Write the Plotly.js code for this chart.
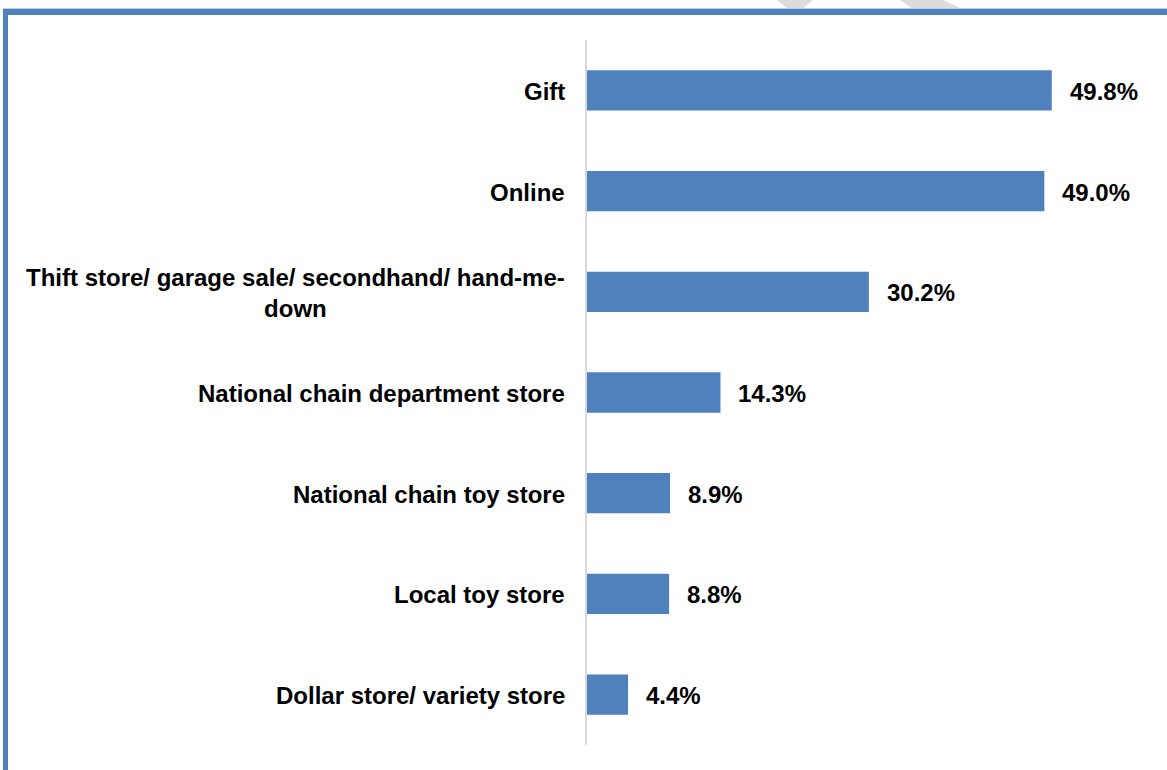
<!DOCTYPE html>
<html>
<head>
<meta charset="utf-8">
<script src="https://cdn.plot.ly/plotly-3.0.1.min.js"></script>
<style>
html,body{margin:0;padding:0;background:#fff;}
#chart{width:1167px;height:770px;position:absolute;left:0;top:0;}
#frame{position:absolute;left:3px;top:9px;width:1164px;height:761px;border-top:6px solid #4F81BD;border-left:5px solid #4F81BD;box-sizing:border-box;pointer-events:none;}
#frameTop{position:absolute;left:3px;top:8px;width:1164px;height:1px;background:#b8cce4;pointer-events:none;}
.wm{position:absolute;top:0;height:9px;background:#dcdcdc;pointer-events:none;}
</style>
</head>
<body>
<div id="chart"></div>
<div class="wm" style="left:777px;width:36px;clip-path:polygon(0 0,100% 0,70% 100%,30% 100%);"></div>
<div class="wm" style="left:900px;width:62px;clip-path:polygon(0 0,70% 0,100% 100%,21% 100%);"></div>
<div id="frameTop"></div>
<div id="frame"></div>
<script>
const categories = [
  "Gift",
  "Online",
  "Thift store/ garage sale/ secondhand/ hand-me-<br>down",
  "National chain department store",
  "National chain toy store",
  "Local toy store",
  "Dollar store/ variety store"
];
const values = [49.8, 49.0, 30.2, 14.3, 8.9, 8.8, 4.4];
const valueLabels = ["49.8%", "49.0%", "30.2%", "14.3%", "8.9%", "8.8%", "4.4%"];

const font = {family: "Liberation Sans, Arial, sans-serif", size: 24, color: "#000"};

const trace = {
  type: "bar",
  orientation: "h",
  x: values,
  y: categories,
  marker: {color: "#4F81BD"},
  hoverinfo: "none"
};

const annotations = [];
categories.forEach((c, i) => {
  annotations.push({
    x: 0, xref: "paper", y: c, yref: "y",
    text: "<b>" + c + "</b>", showarrow: false,
    xanchor: "right", yanchor: "middle", align: "center",
    xshift: -20, yshift: -1, font: font
  });
  annotations.push({
    x: values[i], xref: "x", y: c, yref: "y",
    text: "<b>" + valueLabels[i] + "</b>", showarrow: false,
    xanchor: "left", yanchor: "middle", xshift: 16, yshift: -1, font: font
  });
});

const layout = {
  width: 1167, height: 770,
  margin: {l: 587, r: 20, t: 40, b: 25},
  paper_bgcolor: "#fff", plot_bgcolor: "#fff",
  bargap: 0.6,
  showlegend: false,
  xaxis: {range: [0, 60], visible: false, fixedrange: true},
  yaxis: {
    autorange: "reversed",
    showticklabels: false,
    showline: true, linecolor: "#D9D9D9", linewidth: 2,
    ticks: "", showgrid: false, zeroline: false
  },
  annotations: annotations
};

Plotly.newPlot("chart", [trace], layout, {displayModeBar: false, staticPlot: true});
</script>
</body>
</html>
